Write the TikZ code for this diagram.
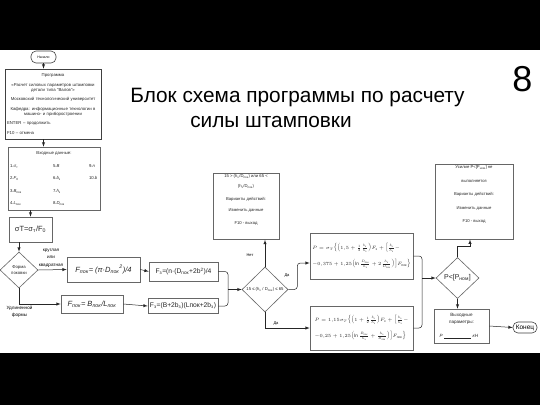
\RequirePackage{fix-cm}
\documentclass[tikz,border=0pt]{standalone}
\usepackage{amsmath}
\usepackage{fontspec}
\setmainfont{Liberation Sans}
\usetikzlibrary{shapes,arrows,positioning,calc}
\tikzstyle{blok} = [draw=black!60, fill=white, rectangle, line width=0.6pt, inner sep=1pt, text=black!85]
\tikzstyle{romb} = [draw=black!60, fill=white, diamond, line width=0.6pt, inner sep=0pt, align=center, text=black!85]
\tikzstyle{oval} = [draw=black!75, fill=white, rectangle, rounded corners=5pt, line width=0.6pt, inner sep=0pt]
\tikzstyle{liniya} = [draw=black!85, line width=0.5pt]
\tikzstyle{strelka} = [liniya, -latex]
\tikzstyle{metka} = [align=center, inner sep=0pt, font=\fontsize{4.6}{7.5}\selectfont]
\newcommand{\melko}{\fontsize{4.3}{5}\selectfont}
\newcommand{\zg}{\text{з}}
\newcommand{\pk}{\text{пок}}

\begin{document}
\begin{tikzpicture}[x=1pt,y=-1pt]
\useasboundingbox (0,0) rectangle (540,405);
\fill[black] (0,0) rectangle (540,405);
\fill[white] (0,50) rectangle (540,353);

% zagolovok
\node[font=\fontsize{20.8}{24}\selectfont] (zag1) at (297.5,97) {Блок схема программы по расчету};
\node[font=\fontsize{20.8}{24}\selectfont] (zag2) at (271,122) {силы штамповки};
\node[font=\fontsize{36}{40}\selectfont] (nomer) at (522.5,79) {8};

% levaya chast
\node[oval, minimum width=25pt, minimum height=12pt, font=\fontsize{3.5}{4}\selectfont] (nach) at (43.5,57) {Начало};
\node[blok, draw=black!75, minimum width=96pt, minimum height=70pt, text width=92pt, font=\melko] (prog) at (53,104) {%
  \centering Программа\par\vspace{4.5pt}
  «Расчет силовых параметров штамповки\\детали типа "Валов"»\par\vspace{4.5pt}
  Московский технологический университет\par\vspace{4.5pt}
  Кафедра: информационные технологии в\\машино- и приборостроении\par\vspace{4.5pt}
  \raggedright ENTER – продолжить\par\vspace{4.5pt}
  F10 – отмена\par};
\node[blok, minimum width=92pt, minimum height=63pt, font=\melko, inner sep=0pt] (vhod) at (54,178.5) {%
  \setlength{\tabcolsep}{0pt}%
  \begin{tabular}{p{43pt}p{36pt}p{9pt}}
  \multicolumn{3}{c}{Входные данные:}\\[8pt]
  1.\textit{σ}\textsubscript{т} & 5.\textit{B} & 9.\textit{n}\\[7.5pt]
  2.\textit{F}\textsubscript{0} & 6.\textit{b}\textsubscript{з} & 10.\textit{b}\\[7.5pt]
  3.\textit{B}\textsubscript{пок} & 7.\textit{h}\textsubscript{з} & \\[7.5pt]
  4.\textit{L}\textsubscript{пок} & 8.\textit{D}\textsubscript{пок} &
  \end{tabular}};
\node[blok, minimum width=43pt, minimum height=25pt, font=\fontsize{7.5}{9}\selectfont] (sigma) at (30.5,229.5) {σT=σ\textsubscript{т}/F\textsubscript{0}};
\node[romb, minimum width=38pt, minimum height=36pt, font=\fontsize{4.3}{5.5}\selectfont] (form) at (19,270) {Форма\\поковки};
\node[metka] (krug) at (51,258) {круглая\\или\\квадратная};
\node[metka] (udl) at (19.5,312) {Удлиненной\\формы};

% ploshchadi
\node[blok, minimum width=73pt, minimum height=25pt, font=\fontsize{7.5}{9}\selectfont\itshape] (fround) at (103.5,269.5) {F\textsubscript{пок}= (π·D\textsubscript{пок}\textsuperscript{2})/4};
\node[blok, minimum width=62pt, minimum height=18pt, font=\fontsize{7.5}{9}\selectfont\itshape] (flong) at (92,304) {F\textsubscript{пок}= B\textsubscript{пок}/L\textsubscript{пок}};
\node[blok, minimum width=69pt, minimum height=19pt, font=\fontsize{6.7}{8}\selectfont] (fz1) at (183.5,271.5) {F\textsubscript{з}=(n·(D\textsubscript{пок}+2b\textsuperscript{2})/4};
\node[blok, minimum width=70pt, minimum height=15pt, font=\fontsize{6.7}{8}\selectfont] (fz2) at (183,306) {F\textsubscript{з}=(B+2b\textsubscript{з})(Lпок+2b\textsubscript{з})};

% proverka h/D
\node[romb, minimum width=46pt, minimum height=45pt, font=\fontsize{4.2}{5}\selectfont] (d2) at (265,289.5) {\makebox[0pt]{15 ≤ (h\textsubscript{з} / D\textsubscript{пок}) ≤ 65}};
\node[blok, minimum width=66pt, minimum height=63pt, align=center, font=\fontsize{4.2}{10}\selectfont] (err1) at (246,206.5) {15 > (h\textsubscript{з}/D\textsubscript{пок}) или 65 <\\(h\textsubscript{з}/D\textsubscript{пок})\\[3pt]Варианты действий:\\[1pt]Изменить данные\\[3pt]F10 - выход\\[4pt]};
\node[metka, font=\fontsize{4}{5}\selectfont] (net) at (250,255) {Нет};
\node[metka, font=\fontsize{4}{5}\selectfont] (da1) at (287,276) {Да};
\node[metka, font=\fontsize{4}{5}\selectfont] (da2) at (276,324) {Да};

% usilie
\node[blok, minimum width=103pt, minimum height=46pt, align=left, font=\fontsize{4.7}{10}\selectfont] (p1) at (361.5,256) {%
  $P=\sigma_T\Bigl\{\Bigl(1{,}5+\frac{1}{2}\frac{b_\zg}{h_\zg}\Bigr)F_\zg+\Bigl[\frac{b_\zg}{h_\zg}-$\\[6pt]
  $-0{,}375+1{,}25\Bigl(\ln\frac{D_\pk}{h_\zg}+2\frac{h_\zg}{D_\pk}\Bigr)\Bigr]F_\pk\Bigr\}$};
\node[blok, minimum width=103pt, minimum height=44pt, align=left, font=\fontsize{4.7}{10}\selectfont] (p2) at (361.5,328) {%
  $P=1{,}15\sigma_T\Bigl\{\Bigl(1+\frac{1}{2}\frac{b_\zg}{h_\zg}\Bigr)F_\zg+\Bigl[\frac{b_\zg}{h_\zg}-$\\[6pt]
  $-0{,}25+1{,}25\Bigl(\ln\frac{B_\pk}{h_\zg}+\frac{h_\zg}{B_\pk}\Bigr)\Bigr]F_\pk\Bigr\}$};

% proverka P
\node[romb, minimum width=43pt, minimum height=41pt, font=\fontsize{7}{8}\selectfont] (d3) at (457.5,278) {P<[P\textsubscript{ном}]};
\node[blok, minimum width=78pt, minimum height=68pt, align=center, font=\fontsize{4.2}{13.5}\selectfont] (err2) at (474,202) {Усилие P<[P\textsubscript{ном}] не\\выполняется\\Варианты действий:\\Изменить данные\\F10 - выход\\[2pt]};
\node[blok, minimum width=55pt, minimum height=34pt, text width=50pt, font=\fontsize{4.6}{7}\selectfont] (vyh) at (461.5,326) {%
  \centering Выходные\\параметры:\par\vspace{7pt}
  \raggedright\hspace*{3pt}\textit{P} \rule[-0.3pt]{27pt}{0.3pt} \textit{кН}\par};
\node[oval, minimum width=24pt, minimum height=11pt, font=\fontsize{6.5}{7}\selectfont] (konec) at (525,327.5) {Конец};

% strelki
\draw[strelka] (nach.south) -- (nach.south |- prog.north);
\draw[strelka] (nach.south |- prog.south) -- (nach.south |- vhod.north);
\draw[strelka] (sigma.north |- vhod.south) -- (sigma.north);
\draw[strelka] (form.north |- sigma.south) -- (form.north);
\draw[strelka] (form.east) -- (fround.west);
\draw[strelka] (form.south) |- (flong.west);
\draw[strelka] (fround.east) -- (fz1.west);
\draw[strelka] (flong.east) -- (fz2.west);
\coordinate (sbor1) at (228,289.5);
\draw[liniya, rounded corners=3pt] (fz1.east) -| (sbor1) |- (fz2.east);
\draw[strelka] (sbor1) -- (d2.west);
\draw[strelka] (d2.north) -- (d2.north |- err1.south);
\draw[strelka, rounded corners=3pt] (d2.east) -- ++(9,0) |- ($(p1.west)+(0,7)$);
\draw[strelka] (d2.south) |- (p2.west);
\coordinate (sbor2) at (422,278);
\draw[liniya, rounded corners=3pt] (p1.east) -| (sbor2) |- (p2.east);
\draw[strelka] (sbor2) -- (d3.west);
\draw[strelka] (d3.north) -- ++(0,-11) -| ($(err2.south)+(-4,0)$);
\draw[strelka] (d3.south) -- (d3.south |- vyh.north);
\draw[strelka] (vyh.east) -- (konec.west);
\end{tikzpicture}
\end{document}
